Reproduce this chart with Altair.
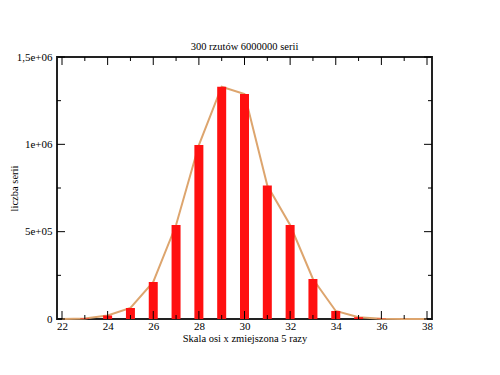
import altair as alt
import pandas as pd

# data
xs = [22, 23, 24, 25, 26, 27, 28, 29, 30, 31, 32, 33, 34, 35, 36, 37, 38]
counts = [0, 3000, 20000, 63000, 212000, 538000, 996000, 1330000, 1288000,
          764000, 538000, 229000, 46000, 10000, 2000, 300, 0]

x_ticks = list(range(22, 39))
y_ticks = [0, 250000, 500000, 750000, 1000000, 1250000, 1500000]

W, H = 375, 262
FONT = "Liberation Serif, Times New Roman, DejaVu Serif, serif"
FS = 10.5

df = pd.DataFrame({"x": xs, "n": counts})
bars_df = df[(df.x >= 23) & (df.x <= 37)]

xscale = alt.Scale(domain=[22, 38], nice=False, zero=False)
yscale = alt.Scale(domain=[0, 1500000], nice=False)

ylabel_expr = ("datum.value == 0 ? '0' : datum.value == 500000 ? '5e+05' : "
               "datum.value == 1000000 ? '1e+06' : datum.value == 1500000 ? '1,5e+06' : ''")

x_axis = alt.Axis(values=list(range(22, 39, 2)), format="d", ticks=False, domain=False,
                  grid=False, labelPadding=1, labelFont=FONT, labelFontSize=11,
                  labelColor="black", title="Skala osi x zmiejszona 5 razy",
                  titleFont=FONT, titleFontSize=FS, titleFontWeight="normal",
                  titleColor="black", titlePadding=2)
y_axis = alt.Axis(values=[0, 500000, 1000000, 1500000], labelExpr=ylabel_expr, ticks=False,
                  domain=False, grid=False, labelPadding=5, labelFont=FONT, labelFontSize=11,
                  labelColor="black", title="liczba serii", titleFont=FONT, titleFontSize=FS,
                  titleFontWeight="normal", titleColor="black", titlePadding=-3)

line = alt.Chart(df).mark_line(color="#DDA56E", strokeWidth=2).encode(
    x=alt.X("x:Q", scale=xscale, axis=x_axis),
    y=alt.Y("n:Q", scale=yscale, axis=y_axis),
)
bars = alt.Chart(bars_df).mark_bar(size=9, color="#FF1010").encode(
    x=alt.X("x:Q", scale=xscale, axis=x_axis),
    y=alt.Y("n:Q", scale=yscale, axis=y_axis),
)

xt = pd.DataFrame({"x": x_ticks})
xt_major = xt[xt.x % 2 == 0]
xt_minor = xt[xt.x % 2 == 1]
yt = pd.DataFrame({"n": y_ticks})
yt_major = yt[yt.n % 500000 == 0]
yt_minor = yt[yt.n % 500000 != 0]


def xtick(d, y0, y1):
    return alt.Chart(d).mark_rule(color="black", strokeWidth=1).encode(
        x=alt.X("x:Q", scale=xscale, axis=x_axis), y=alt.value(y0), y2=alt.value(y1))


def ytick(d, x0, x1):
    return alt.Chart(d).mark_rule(color="black", strokeWidth=1).encode(
        y=alt.Y("n:Q", scale=yscale, axis=y_axis), x=alt.value(x0), x2=alt.value(x1))


ticks = [
    xtick(xt_major, H, H - 8), xtick(xt_minor, H, H - 4),
    xtick(xt_major, 0, 8), xtick(xt_minor, 0, 4),
    ytick(yt_major, 0, 8), ytick(yt_minor, 0, 4),
    ytick(yt_major, W, W - 8), ytick(yt_minor, W, W - 4),
]

chart = alt.layer(line, bars, *ticks).properties(
    width=W, height=H,
    background="white",
    title=alt.TitleParams("300 rzutów 6000000 serii", font=FONT, fontSize=FS,
                          fontWeight="normal", color="black", offset=-1),
    autosize=alt.AutoSizeParams(type="none"),
    padding={"left": 49, "top": 49, "right": 60, "bottom": 50},
).configure_view(stroke="#222222", strokeWidth=2)

chart.save("out.html", embed_options={"renderer": "svg", "actions": False})
